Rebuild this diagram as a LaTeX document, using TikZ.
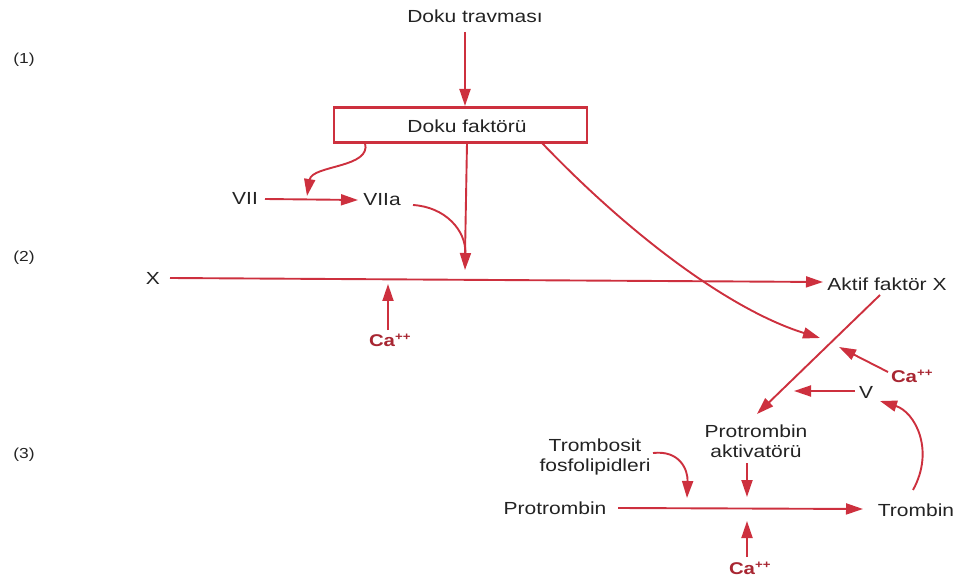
\documentclass[tikz,border=0pt]{standalone}
\usepackage{fontspec}
\setmainfont{Liberation Sans}[FakeStretch=1.2]
\usetikzlibrary{arrows.meta}
\definecolor{lred}{RGB}{205,48,62}
\definecolor{tred}{RGB}{168,38,50}
\definecolor{ink}{RGB}{35,35,35}
\tikzset{
  lbl/.style={font=\fontsize{17.5}{20}\selectfont, text=ink, inner sep=1pt},
  num/.style={font=\fontsize{14.5}{17}\selectfont, text=ink, inner sep=1pt},
  cal/.style={font=\fontsize{17}{20}\selectfont\bfseries, text=tred, inner sep=1pt},
  arr/.style={draw=lred, line width=1.9pt, -{Triangle[length=17pt,width=11pt]}},
  ln/.style={draw=lred, line width=1.9pt},
  fbox/.style={draw=lred, line width=2.2pt, minimum width=253pt, minimum height=35pt}
}
\newcommand{\capp}{Ca\textsuperscript{\fontsize{11}{12}\selectfont ++}}
\begin{document}
\begin{tikzpicture}[x=1pt,y=-1pt]
\useasboundingbox (0,0) rectangle (959,580);
% labels
\node[num] (n1) at (24,60) {(1)};
\node[num] (n2) at (24,258) {(2)};
\node[num] (n3) at (24,455) {(3)};
\node[lbl] (trav) at (475,16) {Doku travması};
\node[fbox] (fak) at (460.5,125) {};
\node[lbl] (fakt) at (467,126) {Doku faktörü};
\node[lbl] (vii) at (245,198) {VII};
\node[lbl] (viia) at (382,200) {VIIa};
\node[lbl] (x) at (153,278) {X};
\node[lbl] (afx) at (887,284) {Aktif faktör X};
\node[cal] (ca1) at (390,340) {\capp};
\node[cal] (ca2) at (912,376) {\capp};
\node[lbl] (v) at (866,392) {V};
\node[lbl, align=center] (pa) at (756,441) {Protrombin\\aktivatörü};
\node[lbl, align=center] (tf) at (595,457) {Trombosit\\fosfolipidleri};
\node[lbl] (pro) at (555,508) {Protrombin};
\node[lbl] (tro) at (916,510) {Trombin};
\node[cal] (ca3) at (750,568) {\capp};
% coordinates
\coordinate (a1) at (465,32);
\coordinate (a1e) at (465,106);
\coordinate (b1) at (365,143);
\coordinate (b1e) at (307,196);
\coordinate (c1) at (265,199);
\coordinate (c1e) at (358,200);
\coordinate (d1) at (413,205);
\coordinate (d1e) at (465,270);
\coordinate (e1) at (467,143);
\coordinate (x1) at (170,278);
\coordinate (x1e) at (823,282);
\coordinate (ca1s) at (388,330);
\coordinate (ca1e) at (388,284);
\coordinate (f1) at (542,143);
\coordinate (f1e) at (820,338);
\coordinate (g1) at (880,295);
\coordinate (g1e) at (757,414);
\coordinate (ca2s) at (888,372);
\coordinate (ca2e) at (839,347);
\coordinate (vs) at (855,391);
\coordinate (ve) at (794,391);
\coordinate (t1) at (913,490);
\coordinate (t1e) at (880,401);
\coordinate (tf1) at (653,453);
\coordinate (tf1e) at (687,498);
\coordinate (pa1) at (747,463);
\coordinate (pa1e) at (747,497);
\coordinate (p1) at (618,508);
\coordinate (p1e) at (863,509);
\coordinate (ca3s) at (747,557);
\coordinate (ca3e) at (747,521);
% connectors
\draw[arr] (a1) -- (a1e);
\draw[arr] (b1) .. controls (372,168) and (312,165) .. (b1e);
\draw[arr] (c1) -- (c1e);
\draw[arr] (d1) .. controls (445,207) and (466,230) .. (d1e);
\draw[ln] (e1) -- (465,255);
\draw[arr] (x1) -- (x1e);
\draw[arr] (ca1s) -- (ca1e);
\draw[arr] (f1) .. controls (630,235) and (730,310) .. (f1e);
\draw[arr] (g1) -- (g1e);
\draw[arr] (ca2s) -- (ca2e);
\draw[arr] (vs) -- (ve);
\draw[arr] (t1) .. controls (935,450) and (915,412) .. (t1e);
\draw[arr] (tf1) .. controls (680,450) and (688,470) .. (tf1e);
\draw[arr] (pa1) -- (pa1e);
\draw[arr] (p1) -- (p1e);
\draw[arr] (ca3s) -- (ca3e);
\end{tikzpicture}
\end{document}
